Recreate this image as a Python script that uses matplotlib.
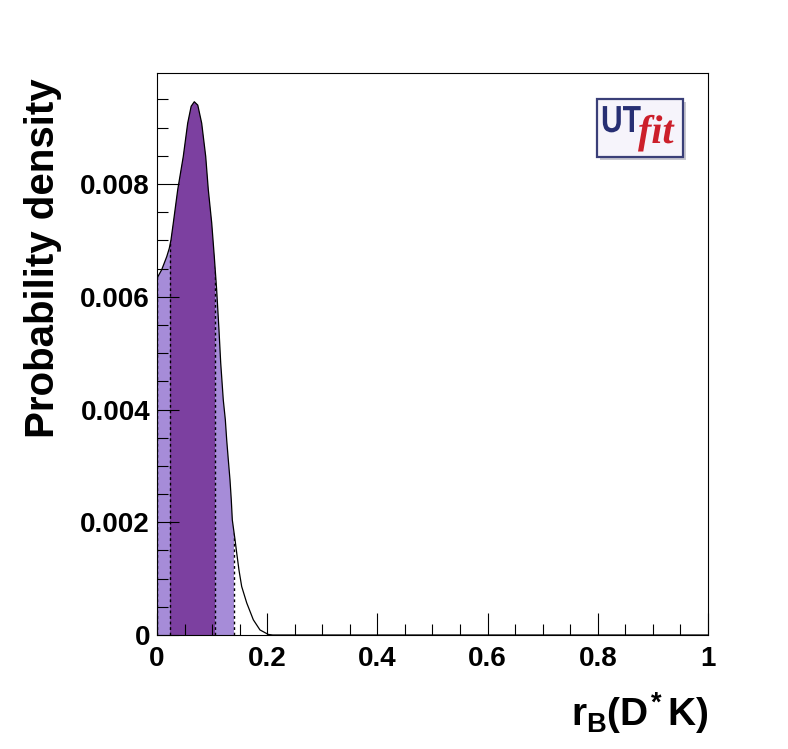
import numpy as np
import matplotlib
matplotlib.use("Agg")
import matplotlib.pyplot as plt
from matplotlib.ticker import MultipleLocator, FixedLocator, FixedFormatter
from matplotlib.patches import Rectangle, PathPatch
from matplotlib.textpath import TextPath
from matplotlib.font_manager import FontProperties
from matplotlib.transforms import Affine2D

plt.rcParams['font.family'] = ['Liberation Sans', 'DejaVu Sans']
plt.rcParams['font.weight'] = 'bold'
plt.rcParams['mathtext.fontset'] = 'custom'
plt.rcParams['mathtext.rm'] = 'Liberation Sans:bold'
plt.rcParams['mathtext.it'] = 'Liberation Sans:bold'
plt.rcParams['mathtext.bf'] = 'Liberation Sans:bold'

# posterior for r_B(D*K)
rb = [0.0, 0.0085, 0.0176, 0.0223, 0.0254, 0.0296, 0.0376, 0.0477, 0.0557, 0.0620,
      0.0677, 0.0740, 0.0811, 0.0884, 0.0931, 0.0993, 0.1040, 0.1083, 0.1125, 0.1156,
      0.1203, 0.1240, 0.1265, 0.1294, 0.1325, 0.1348, 0.1367, 0.1416, 0.1446, 0.1488,
      0.1537, 0.1628, 0.1748, 0.1869, 0.2020, 0.2100, 1.0]
pdf = [0.00633, 0.00648, 0.00671, 0.00686, 0.00701, 0.00731, 0.00790, 0.00849, 0.00908, 0.00938,
       0.00946, 0.00940, 0.00908, 0.00849, 0.00790, 0.00731, 0.00671, 0.00612, 0.00541, 0.00483,
       0.00417, 0.00382, 0.00346, 0.00311, 0.00275, 0.00240, 0.00204, 0.00169, 0.00146, 0.00115,
       0.00086, 0.00057, 0.00027, 0.00009, 0.00001, 0.0, 0.0]

# 68% and 95% intervals
lo68, hi68 = 0.0236, 0.1059
lo95, hi95 = 0.0, 0.1403

xticks = [0, 0.2, 0.4, 0.6, 0.8, 1.0]
xticklabels = ['0', '0.2', '0.4', '0.6', '0.8', '1']
yticks = [0, 0.002, 0.004, 0.006, 0.008]
yticklabels = ['0', '0.002', '0.004', '0.006', '0.008']

light = '#a68cd8'
dark = '#7c40a0'

fig = plt.figure(figsize=(7.88, 7.49), dpi=100)
ax = fig.add_axes([157/788, 1-635/749, 551/788, 562/749])

area = ax.fill_between(rb, pdf, color='none', lw=0)
clip = area.get_paths()[0]

p95 = ax.add_patch(Rectangle((lo95, 0), hi95 - lo95, 1, color=light, lw=0))
p95.set_clip_path(clip, ax.transData)
p68 = ax.add_patch(Rectangle((lo68, 0), hi68 - lo68, 1, color=dark, lw=0))
p68.set_clip_path(clip, ax.transData)
for xv in [lo95, lo68, hi68, hi95]:
    ln = ax.axvline(xv, color='black', lw=1.0, ls=(0, (2, 2)))
    ln.set_clip_path(clip, ax.transData)

ax.plot(rb, pdf, color='black', lw=0.9)

ax.set_xlim(0, 1)
ax.set_ylim(0, 0.00997)

ax.xaxis.set_major_locator(FixedLocator(xticks))
ax.xaxis.set_major_formatter(FixedFormatter(xticklabels))
ax.yaxis.set_major_locator(FixedLocator(yticks))
ax.yaxis.set_major_formatter(FixedFormatter(yticklabels))
ax.xaxis.set_minor_locator(MultipleLocator(0.05))
ax.yaxis.set_minor_locator(MultipleLocator(0.0005))
ax.tick_params(which='both', direction='in', top=False, right=False, width=0.8)
ax.tick_params(which='major', length=16)
ax.tick_params(which='minor', length=8)
ax.tick_params(axis='x', which='major', labelsize=20, pad=8)
ax.tick_params(axis='y', which='major', labelsize=20, pad=5)
for lab in ax.get_xticklabels() + ax.get_yticklabels():
    lab.set_fontweight('bold')
for s in ax.spines.values():
    s.set_linewidth(0.8)

fig.text(43/788, 1-78/749, 'Probability density', rotation=90, ha='center', va='top',
         fontsize=29, fontweight='bold')
fig.text(709/788, 1-726/749, r'$r_{B}(D^{*}\,K)$', ha='right', va='baseline', fontsize=28)

# UTfit logo
fig.add_artist(Rectangle((600/788, 1-160/749), 86/788, 58/749, transform=fig.transFigure,
                         facecolor='#c8c8d0', edgecolor='none'))
fig.add_artist(Rectangle((597/788, 1-157/749), 86/788, 58/749, transform=fig.transFigure,
                         facecolor='#f6f4fb', edgecolor='#3a3f78', lw=1.6))
H = 749
ut = TextPath((0, 0), 'UT', size=1, prop=FontProperties(family='Liberation Sans', weight='bold'))
fig.add_artist(PathPatch(ut, transform=Affine2D().scale(30, 37.7).translate(601, H - 132),
                         facecolor='#272f73', edgecolor='none'))
fi = TextPath((0, 0), 'fit', size=1, prop=FontProperties(family='Liberation Serif', style='italic'))
fig.add_artist(PathPatch(fi, transform=Affine2D().scale(40, 40).translate(638, H - 143),
                         facecolor='#cc1f2a', edgecolor='none'))

fig.savefig('out.png', dpi=100)
